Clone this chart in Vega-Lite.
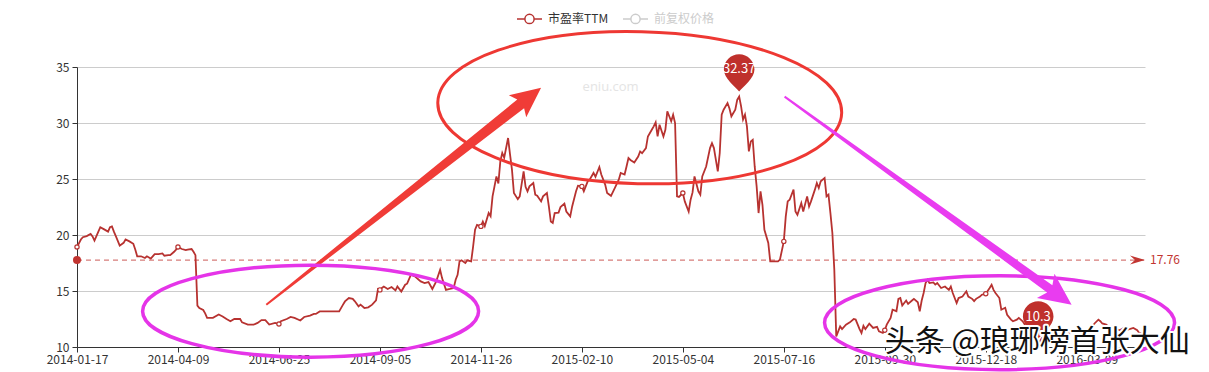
{
  "$schema": "https://vega.github.io/schema/vega-lite/v6.json",
  "width": 1068,
  "height": 280,
  "autosize": {"type": "none"},
  "padding": {"left": 77, "top": 67, "right": 64, "bottom": 25},
  "background": "#ffffff",
  "config": {"view": {"stroke": null}, "font": "Noto Sans CJK SC"},
  "datasets": {
    "pe": [
      {"i":0,"v":18.93},{"i":2,"v":19.6},{"i":3,"v":19.8},{"i":5,"v":19.9},{"i":7,"v":20.1},{"i":8,"v":19.87},{"i":9,"v":19.5},{"i":11,"v":20.3},{"i":12,"v":20.7},{"i":14,"v":20.5},{"i":16,"v":20.3},{"i":17,"v":20.7},{"i":18,"v":20.77},{"i":19,"v":20.3},{"i":20,"v":19.9},{"i":22,"v":19.05},{"i":24,"v":19.3},{"i":25,"v":19.6},{"i":27,"v":19.43},{"i":29,"v":19.22},{"i":30,"v":18.7},{"i":31,"v":18.1},{"i":33,"v":18.1},{"i":35,"v":17.95},{"i":36,"v":18.1},{"i":38,"v":17.9},{"i":40,"v":18.3},{"i":42,"v":18.3},{"i":44,"v":18.35},{"i":45,"v":18.15},{"i":47,"v":18.2},{"i":48,"v":18.2},{"i":50,"v":18.5},{"i":51,"v":18.7},{"i":52,"v":18.93},{"i":54,"v":18.75},{"i":56,"v":18.65},{"i":57,"v":18.7},{"i":59,"v":18.75},{"i":60,"v":18.5},{"i":61,"v":18.2},{"i":62,"v":13.7},{"i":63,"v":13.48},{"i":65,"v":13.3},{"i":66,"v":13.0},{"i":67,"v":12.6},{"i":70,"v":12.6},{"i":73,"v":12.9},{"i":75,"v":12.73},{"i":77,"v":12.5},{"i":79,"v":12.3},{"i":81,"v":12.5},{"i":84,"v":12.5},{"i":85,"v":12.2},{"i":88,"v":12.0},{"i":91,"v":12.0},{"i":93,"v":12.15},{"i":95,"v":12.4},{"i":97,"v":12.4},{"i":99,"v":12.0},{"i":102,"v":12.15},{"i":104,"v":12.05},{"i":105,"v":12.3},{"i":108,"v":12.5},{"i":110,"v":12.68},{"i":112,"v":12.6},{"i":115,"v":12.37},{"i":117,"v":12.68},{"i":120,"v":12.8},{"i":122,"v":12.95},{"i":123,"v":12.95},{"i":125,"v":13.18},{"i":135,"v":13.18},{"i":137,"v":13.78},{"i":138,"v":14.07},{"i":140,"v":14.37},{"i":142,"v":14.3},{"i":143,"v":14.1},{"i":145,"v":13.63},{"i":146,"v":13.78},{"i":148,"v":13.48},{"i":150,"v":13.54},{"i":152,"v":13.78},{"i":154,"v":14.16},{"i":155,"v":15.18},{"i":156,"v":15.1},{"i":157,"v":15.27},{"i":158,"v":15.4},{"i":160,"v":15.18},{"i":162,"v":15.36},{"i":164,"v":15.06},{"i":165,"v":15.4},{"i":167,"v":14.95},{"i":169,"v":15.56},{"i":170,"v":15.65},{"i":172,"v":16.45},{"i":174,"v":16.3},{"i":176,"v":16.0},{"i":177,"v":15.86},{"i":179,"v":15.7},{"i":181,"v":15.8},{"i":183,"v":15.18},{"i":185,"v":15.86},{"i":187,"v":16.9},{"i":188,"v":16.15},{"i":190,"v":15.1},{"i":192,"v":15.18},{"i":194,"v":15.27},{"i":195,"v":16.0},{"i":196,"v":16.45},{"i":197,"v":17.64},{"i":198,"v":17.74},{"i":200,"v":17.5},{"i":201,"v":17.74},{"i":203,"v":17.65},{"i":204,"v":18.98},{"i":205,"v":20.47},{"i":206,"v":20.9},{"i":208,"v":20.77},{"i":209,"v":21.2},{"i":210,"v":20.8},{"i":212,"v":21.96},{"i":213,"v":21.67},{"i":214,"v":23.45},{"i":215,"v":24.34},{"i":216,"v":25.23},{"i":217,"v":24.6},{"i":218,"v":26.57},{"i":219,"v":27.32},{"i":220,"v":26.9},{"i":222,"v":28.66},{"i":223,"v":27.2},{"i":224,"v":25.83},{"i":225,"v":23.75},{"i":227,"v":23.2},{"i":228,"v":23.45},{"i":230,"v":25.68},{"i":231,"v":24.3},{"i":232,"v":23.9},{"i":233,"v":24.34},{"i":235,"v":24.64},{"i":236,"v":23.6},{"i":237,"v":23.5},{"i":239,"v":23.0},{"i":240,"v":23.45},{"i":242,"v":23.75},{"i":243,"v":22.55},{"i":244,"v":21.2},{"i":245,"v":21.07},{"i":246,"v":21.96},{"i":248,"v":22.0},{"i":249,"v":22.5},{"i":251,"v":22.8},{"i":252,"v":22.1},{"i":254,"v":21.66},{"i":255,"v":22.55},{"i":257,"v":23.9},{"i":258,"v":24.4},{"i":260,"v":24.34},{"i":261,"v":23.9},{"i":263,"v":24.79},{"i":264,"v":24.94},{"i":266,"v":25.54},{"i":267,"v":25.2},{"i":269,"v":26.07},{"i":270,"v":25.4},{"i":272,"v":24.5},{"i":273,"v":23.75},{"i":275,"v":23.5},{"i":277,"v":24.2},{"i":279,"v":24.94},{"i":280,"v":25.54},{"i":282,"v":25.4},{"i":283,"v":26.12},{"i":284,"v":26.87},{"i":285,"v":26.7},{"i":287,"v":26.48},{"i":289,"v":27.0},{"i":290,"v":27.46},{"i":291,"v":27.3},{"i":293,"v":27.76},{"i":294,"v":28.8},{"i":296,"v":29.4},{"i":297,"v":29.7},{"i":298,"v":30.06},{"i":299,"v":28.8},{"i":300,"v":29.85},{"i":302,"v":28.8},{"i":303,"v":29.4},{"i":304,"v":31.04},{"i":305,"v":30.6},{"i":306,"v":30.15},{"i":307,"v":30.74},{"i":308,"v":30.0},{"i":309,"v":23.45},{"i":310,"v":23.4},{"i":312,"v":23.75},{"i":313,"v":23.0},{"i":315,"v":22.1},{"i":316,"v":23.15},{"i":317,"v":23.8},{"i":318,"v":25.23},{"i":320,"v":23.9},{"i":321,"v":23.6},{"i":322,"v":25.23},{"i":324,"v":26.12},{"i":326,"v":27.76},{"i":327,"v":28.2},{"i":328,"v":27.76},{"i":330,"v":25.68},{"i":331,"v":27.32},{"i":332,"v":30.74},{"i":333,"v":31.19},{"i":335,"v":31.78},{"i":336,"v":31.3},{"i":337,"v":30.6},{"i":339,"v":31.19},{"i":340,"v":32.08},{"i":341,"v":32.37},{"i":342,"v":31.48},{"i":343,"v":30.3},{"i":344,"v":30.74},{"i":345,"v":29.7},{"i":346,"v":27.46},{"i":347,"v":28.35},{"i":348,"v":28.5},{"i":349,"v":26.12},{"i":350,"v":24.34},{"i":351,"v":21.96},{"i":352,"v":23.9},{"i":353,"v":22.7},{"i":354,"v":20.47},{"i":356,"v":19.29},{"i":357,"v":17.64},{"i":359,"v":17.64},{"i":361,"v":17.64},{"i":362,"v":17.8},{"i":364,"v":19.43},{"i":365,"v":21.66},{"i":366,"v":23.0},{"i":367,"v":23.15},{"i":369,"v":24.05},{"i":370,"v":22.1},{"i":371,"v":21.8},{"i":373,"v":22.85},{"i":374,"v":22.1},{"i":376,"v":23.45},{"i":377,"v":22.55},{"i":378,"v":23.0},{"i":380,"v":24.05},{"i":381,"v":24.64},{"i":382,"v":24.2},{"i":383,"v":24.79},{"i":385,"v":25.09},{"i":386,"v":23.45},{"i":387,"v":23.6},{"i":388,"v":21.96},{"i":389,"v":20.18},{"i":390,"v":16.9},{"i":391,"v":10.95},{"i":393,"v":11.84},{"i":394,"v":11.6},{"i":396,"v":11.99},{"i":398,"v":12.2},{"i":400,"v":12.5},{"i":401,"v":12.45},{"i":403,"v":11.6},{"i":404,"v":11.25},{"i":405,"v":11.9},{"i":406,"v":11.6},{"i":408,"v":12.08},{"i":410,"v":11.7},{"i":412,"v":11.8},{"i":413,"v":11.4},{"i":415,"v":11.25},{"i":416,"v":11.5},{"i":417,"v":12.0},{"i":419,"v":12.59},{"i":420,"v":13.33},{"i":422,"v":13.2},{"i":423,"v":14.29},{"i":424,"v":14.37},{"i":425,"v":13.7},{"i":427,"v":14.15},{"i":428,"v":13.85},{"i":430,"v":14.15},{"i":431,"v":14.3},{"i":433,"v":14.0},{"i":434,"v":13.18},{"i":435,"v":14.15},{"i":436,"v":14.82},{"i":437,"v":15.71},{"i":438,"v":16.0},{"i":439,"v":15.71},{"i":441,"v":15.77},{"i":442,"v":15.57},{"i":443,"v":15.71},{"i":445,"v":15.27},{"i":447,"v":15.4},{"i":449,"v":15.1},{"i":450,"v":15.4},{"i":451,"v":14.82},{"i":453,"v":13.93},{"i":454,"v":14.37},{"i":456,"v":14.5},{"i":458,"v":14.97},{"i":459,"v":14.5},{"i":461,"v":14.3},{"i":462,"v":14.1},{"i":463,"v":14.3},{"i":465,"v":14.5},{"i":466,"v":14.67},{"i":468,"v":14.76},{"i":470,"v":15.27},{"i":471,"v":15.56},{"i":472,"v":15.1},{"i":473,"v":14.82},{"i":475,"v":14.37},{"i":476,"v":13.33},{"i":478,"v":13.5},{"i":479,"v":12.88},{"i":481,"v":12.44},{"i":482,"v":12.3},{"i":484,"v":12.44},{"i":485,"v":12.6},{"i":487,"v":12.3},{"i":490,"v":11.5},{"i":493,"v":10.8},{"i":495,"v":10.3},{"i":497,"v":10.8},{"i":500,"v":11.1},{"i":504,"v":11.0},{"i":507,"v":11.4},{"i":511,"v":11.2},{"i":515,"v":11.5},{"i":517,"v":11.2},{"i":520,"v":11.4},{"i":522,"v":11.6},{"i":524,"v":12.1},{"i":526,"v":12.44},{"i":527,"v":12.3},{"i":528,"v":12.1},{"i":530,"v":12.0},{"i":532,"v":11.7},{"i":533,"v":11.8},{"i":535,"v":11.6},{"i":537,"v":11.5},{"i":539,"v":11.7},{"i":540,"v":11.5},{"i":542,"v":11.6},{"i":544,"v":11.7},{"i":546,"v":11.5},{"i":547,"v":11.25},{"i":549,"v":11.2},{"i":550,"v":11.1}
    ],
    "avg": [{"i":0,"iEnd":550,"v":"17.76","y":17.76}],
    "extremes": [{"i":341,"v":32.37,"label":"32.37"},{"i":495,"v":10.3,"label":"10.3"}],
    "site": [{"i":274.8,"v":33.21,"t":"eniu.com"}],
    "ellipseRed": [{"i":289.8,"v":31.37}],
    "ellipseLeft": [{"i":120.3,"v":13.2}],
    "ellipseRight": [{"i":475.1,"v":12.17}],
    "arrowRed": [{"i":239.0,"v":33.15}],
    "arrowPink": [{"i":512.2,"v":13.78}],
    "stamp": [{"i":494.5,"v":10.43,"t":"头条 @琅琊榜首张大仙"}]
  },
  "layer": [
    {
      "data": {"name": "site"},
      "mark": {"type": "text", "color": "#e4e4e4", "fontSize": 13, "font": "Open Sans", "align": "center", "baseline": "middle"},
      "encoding": {
        "x": {"field": "i", "type": "quantitative", "scale": {"domain": [0, 550], "nice": false, "zero": false},
          "axis": {"values": [0,52,104,156,208,260,312,364,416,468,520], "labelExpr": "['2014-01-17','2014-04-09','2014-06-25','2014-09-05','2014-11-26','2015-02-10','2015-05-04','2015-07-16','2015-09-30','2015-12-18','2016-03-09'][round(datum.value/52)]", "title": null, "grid": false, "domainColor": "#333333", "tickColor": "#333333", "tickSize": 5, "labelColor": "#333333", "labelFontSize": 12, "labelFont": "Noto Sans CJK SC", "labelPadding": 2, "labelOverlap": false, "labelFlush": false}},
        "y": {"field": "v", "type": "quantitative", "scale": {"domain": [10, 35], "nice": false, "zero": false},
          "axis": {"values": [10,15,20,25,30,35], "title": null, "grid": true, "gridColor": "#cccccc", "domainColor": "#333333", "tickColor": "#333333", "tickSize": 5, "labelColor": "#333333", "labelFontSize": 12, "labelFont": "Noto Sans CJK SC", "labelPadding": 3}},
        "text": {"field": "t"}
      }
    },
    {
      "data": {"name": "pe"},
      "mark": {"type": "line", "strokeWidth": 1.8, "interpolate": "linear"},
      "encoding": {
        "x": {"field": "i", "type": "quantitative"},
        "y": {"field": "v", "type": "quantitative"},
        "color": {"datum": "市盈率TTM", "scale": {"domain": ["市盈率TTM", "前复权价格"], "range": ["#b73230", "#cccccc"]},
          "legend": {"orient": "none", "legendX": 439, "legendY": -62, "direction": "horizontal", "title": null, "padding": 0,
            "symbolType": "M -1 0 L -0.37 0 M 0.37 0 L 1 0 M 0.37 0 A 0.37 0.37 0 1 1 -0.37 0 A 0.37 0.37 0 1 1 0.37 0",
            "symbolSize": 625, "symbolFillColor": "#ffffff", "symbolStrokeWidth": 1.5,
            "labelFont": "Noto Sans CJK SC", "labelFontSize": 12, "labelOffset": 5, "columnPadding": 11,
            "labelColor": {"expr": "datum.label == '前复权价格' ? '#cccccc' : '#333333'"}}}
      }
    },
    {
      "data": {"name": "pe"},
      "transform": [{"filter": "datum.i % 52 == 0"}],
      "mark": {"type": "point", "shape": "circle", "size": 18, "filled": true, "fill": "#ffffff", "stroke": "#b73230", "strokeWidth": 1.2, "opacity": 1},
      "encoding": {
        "x": {"field": "i", "type": "quantitative"},
        "y": {"field": "v", "type": "quantitative"}
      }
    },
    {
      "data": {"name": "avg"},
      "mark": {"type": "rule", "color": "#c23531", "opacity": 0.65, "strokeWidth": 1.4, "strokeDash": [5, 4]},
      "encoding": {
        "x": {"field": "i", "type": "quantitative"},
        "x2": {"field": "iEnd"},
        "y": {"field": "y", "type": "quantitative"}
      }
    },
    {
      "data": {"name": "avg"},
      "mark": {"type": "point", "shape": "circle", "size": 64, "filled": true, "color": "#c23531", "opacity": 1},
      "encoding": {
        "x": {"field": "i", "type": "quantitative"},
        "y": {"field": "y", "type": "quantitative"}
      }
    },
    {
      "data": {"name": "avg"},
      "mark": {"type": "point", "shape": "M 0 0 L -15 -4.5 L -10 0 L -15 4.5 Z", "size": 4, "filled": true, "color": "#c23531", "opacity": 1},
      "encoding": {
        "x": {"field": "iEnd", "type": "quantitative"},
        "y": {"field": "y", "type": "quantitative"}
      }
    },
    {
      "data": {"name": "avg"},
      "mark": {"type": "text", "color": "#c23531", "fontSize": 12, "align": "left", "baseline": "middle", "dx": 5},
      "encoding": {
        "x": {"field": "iEnd", "type": "quantitative"},
        "y": {"field": "y", "type": "quantitative"},
        "text": {"field": "v", "type": "nominal"}
      }
    },
    {
      "data": {"name": "extremes"},
      "mark": {"type": "point", "shape": "M 0 -5 C -4 -10 -15.3 -18 -15.3 -27 A 15.3 15.3 0 1 1 15.3 -27 C 15.3 -18 4 -10 0 -5 Z", "size": 4, "filled": true, "color": "#bf302c", "opacity": 1},
      "encoding": {
        "x": {"field": "i", "type": "quantitative"},
        "y": {"field": "v", "type": "quantitative"}
      }
    },
    {
      "data": {"name": "extremes"},
      "mark": {"type": "text", "color": "#ffffff", "fontSize": 13, "align": "center", "baseline": "middle", "dy": -27},
      "encoding": {
        "x": {"field": "i", "type": "quantitative"},
        "y": {"field": "v", "type": "quantitative"},
        "text": {"field": "label", "type": "nominal"}
      }
    },
    {
      "mark": {"type": "rule", "color": "#dddddd", "strokeWidth": 1},
      "encoding": {
        "x": {"datum": 1.5, "type": "quantitative"},
        "x2": {"datum": 550},
        "y": {"datum": 7.95, "type": "quantitative"}
      }
    },
    {
      "data": {"name": "ellipseRed"},
      "mark": {"type": "point", "shape": "M -202 0 A 202 76 0 1 0 202 0 A 202 76 0 1 0 -202 0 Z", "size": 4, "filled": false, "stroke": "#ee3833", "strokeWidth": 3, "opacity": 1, "angle": 1.5},
      "encoding": {
        "x": {"field": "i", "type": "quantitative"},
        "y": {"field": "v", "type": "quantitative"}
      }
    },
    {
      "data": {"name": "arrowRed"},
      "mark": {"type": "point", "shape": "M 0 0 L -14.86 29.58 L -16.99 20.43 L -274.18 217.78 L -275.42 216.22 L -23.81 11.79 L -32.22 7.6 Z", "size": 4, "filled": true, "color": "#f03c37", "opacity": 1},
      "encoding": {
        "x": {"field": "i", "type": "quantitative"},
        "y": {"field": "v", "type": "quantitative"}
      }
    },
    {
      "data": {"name": "ellipseLeft"},
      "mark": {"type": "point", "shape": "M -168 0 A 168 46 0 1 0 168 0 A 168 46 0 1 0 -168 0 Z", "size": 4, "filled": false, "stroke": "#e534e8", "strokeWidth": 3.5, "opacity": 1},
      "encoding": {
        "x": {"field": "i", "type": "quantitative"},
        "y": {"field": "v", "type": "quantitative"}
      }
    },
    {
      "data": {"name": "ellipseRight"},
      "mark": {"type": "point", "shape": "M -175 0 A 175 47 0 1 0 175 0 A 175 47 0 1 0 -175 0 Z", "size": 4, "filled": false, "stroke": "#e534e8", "strokeWidth": 3.5, "opacity": 1},
      "encoding": {
        "x": {"field": "i", "type": "quantitative"},
        "y": {"field": "v", "type": "quantitative"}
      }
    },
    {
      "data": {"name": "arrowPink"},
      "mark": {"type": "point", "shape": "M 0 0 L -34.71 -6.63 L -24.5 -12.21 L -287.59 -207.19 L -286.41 -208.81 L -19.22 -19.49 L -17.11 -30.93 Z", "size": 4, "filled": true, "color": "#e93cf0", "opacity": 1},
      "encoding": {
        "x": {"field": "i", "type": "quantitative"},
        "y": {"field": "v", "type": "quantitative"}
      }
    },
    {
      "data": {"name": "stamp"},
      "mark": {"type": "text", "fontSize": 30, "font": "Noto Sans CJK SC", "align": "center", "baseline": "middle", "stroke": "#ffffff", "strokeWidth": 4, "fill": "#ffffff", "strokeJoin": "round"},
      "encoding": {
        "x": {"field": "i", "type": "quantitative"},
        "y": {"field": "v", "type": "quantitative"},
        "text": {"field": "t"}
      }
    },
    {
      "data": {"name": "stamp"},
      "mark": {"type": "text", "fontSize": 30, "font": "Noto Sans CJK SC", "align": "center", "baseline": "middle", "fill": "#111111"},
      "encoding": {
        "x": {"field": "i", "type": "quantitative"},
        "y": {"field": "v", "type": "quantitative"},
        "text": {"field": "t"}
      }
    }
  ]
}
